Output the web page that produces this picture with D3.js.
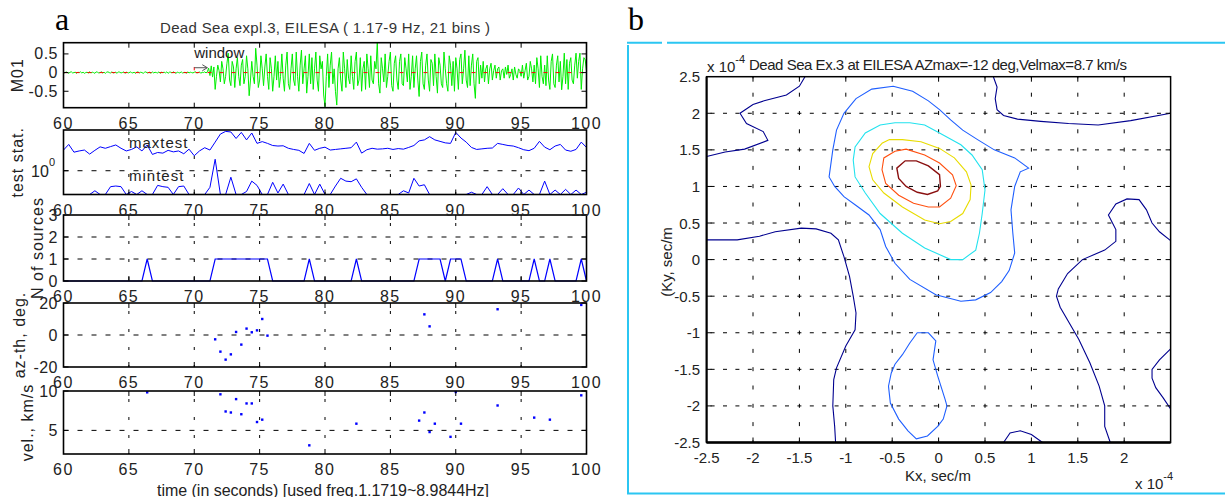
<!DOCTYPE html>
<html>
<head>
<meta charset="utf-8">
<script src="https://cdn.jsdelivr.net/npm/d3@7"></script>
<style>
  body { margin: 0; background: #fff; }
  svg text { font-family: "Liberation Sans Narrow", "Arial Narrow", "Liberation Sans", sans-serif; fill: #222; }
</style>
</head>
<body>
<script>
// ---- panel a data ----
const timeTicks = [60, 65, 70, 75, 80, 85, 90, 95, 100];
const waveT0 = 60, waveDt = 0.1;
// M01 trace, one value per 0.1 s, 60.0 .. 100.0
const waveM01 = [
  0.01,-0.01,0.02,0,-0.02,0.01,0.02,-0.01,0,0.01,
  -0.02,0.01,0,0.02,-0.01,0.01,-0.02,0,0.01,-0.01,
  0.02,-0.01,0.01,0,-0.02,0.02,0.01,-0.01,0,0.02,
  -0.01,0.01,-0.02,0.01,0.02,0,-0.01,0.02,-0.01,0,
  0.01,-0.02,0.02,0.01,-0.01,0,0.02,-0.02,0.01,0,
  -0.01,0.02,0,-0.01,0.01,-0.02,0.01,0.02,-0.01,0.01,
  0,-0.02,0.01,0.02,-0.01,0,0.01,-0.02,0.02,-0.01,
  0.01,0,-0.01,0.02,-0.02,0.01,0,0.01,-0.01,0.02,
  -0.02,0.01,0.01,-0.01,0.02,0,-0.02,0.01,0,-0.01,
  0.02,-0.01,0,0.01,-0.02,0.02,-0.01,0.01,0,-0.01,
  0.01,0.02,-0.01,0,0.02,-0.02,0.01,0,0.02,-0.01,
  0.02,0.12,-0.08,0.18,-0.12,0.15,-0.45,-0.1,0.2,0.05,
  -0.25,0.3,0.1,-0.3,-0.1,0.25,0.52,-0.2,-0.35,0.3,
  0.15,-0.4,0.1,0.4,-0.1,-0.35,0.2,0.35,-0.3,-0.1,
  0.45,0.1,-0.62,-0.2,0.3,-0.1,-0.3,0.65,0.2,-0.4,
  -0.2,0.45,0.1,-0.35,0.15,0.5,-0.1,-0.45,0.4,0.1,
  -0.5,-0.1,0.45,-0.2,0.3,-0.4,-0.1,0.5,-0.15,-0.5,
  0.2,0.55,-0.3,-0.45,0.1,0.5,-0.2,-0.35,0.55,-0.1,
  -0.5,0.2,0.6,-0.3,0.1,0.45,-0.55,-0.1,0.5,-0.3,
  0.4,-0.45,0.1,0.55,-0.2,-0.5,0.45,0.1,0.3,-0.6,
  -0.91,-0.1,0.5,-0.4,0.2,0.55,-0.3,0.1,-0.5,-0.87,
  0.1,0.4,-0.2,-0.5,0.55,0.1,-0.4,0.35,-0.15,-0.3,
  0.45,-0.1,-0.45,0.3,0.55,-0.35,-0.2,0.4,-0.5,0.1,
  0.3,-0.45,0.5,0.1,-0.4,0.45,-0.2,-0.3,0.3,0.1,
  0.83,-0.3,-0.55,0.4,0.1,-0.25,0.5,-0.4,-0.1,0.3,
  0.55,-0.35,-0.5,0.25,0.45,-0.2,-0.45,0.3,0.5,-0.3,
  -0.35,0.4,0.1,-0.25,0.5,-0.45,-0.1,0.45,-0.4,0.1,
  0.45,-0.2,-0.64,0.3,0.55,-0.3,-0.45,0.2,0.5,-0.2,
  -0.5,0.35,0.25,-0.35,0.5,-0.1,-0.55,0.4,0.2,-0.3,
  -0.4,0.55,0.1,-0.3,-0.5,0.45,0.2,-0.35,0.3,-0.5,
  0.4,0.1,-0.45,0.35,0.5,-0.3,0.1,0.6,-0.2,-0.4,
  0.45,-0.35,0.2,0.5,-0.3,-0.69,0.3,0.4,-0.3,0.2,
  -0.15,0.3,-0.25,0.1,0.2,-0.3,0.1,0.25,-0.2,0.05,
  0.2,-0.15,0.1,0.15,-0.2,0.05,0.1,-0.15,0.15,-0.05,
  0.2,-0.15,-0.05,0.1,-0.2,0.15,-0.05,-0.15,0.1,0.05,
  -0.1,0.2,-0.15,0.05,0.25,-0.2,-0.1,0.3,0.1,-0.25,
  0.2,-0.3,0.4,0.1,-0.4,0.45,-0.1,-0.3,0.2,-0.35,
  0.45,-0.2,-0.45,0.3,0.5,-0.3,-0.4,0.2,0.45,-0.25,
  0.3,-0.46,-0.1,0.52,-0.3,0.35,-0.45,0.25,0.4,-0.2,
  -0.3,0.2,0.52,-0.15,0.3,0.52,-0.45,0.1,0.4,0.34,
  0.05
];
const statT0 = 60, statDt = 0.4;
const maxtest = [
  1.56,1.76,1.49,1.53,1.56,1.43,1.55,1.67,1.62,1.68,
  1.74,1.62,1.53,1.58,1.67,1.53,1.74,1.42,1.48,1.46,
  1.55,1.50,1.53,1.44,1.59,1.38,1.53,1.64,1.56,1.85,
  2.20,2.33,2.30,2.00,2.28,1.94,2.25,1.80,1.87,1.80,
  1.72,1.70,1.71,1.62,1.58,1.55,1.45,1.80,1.55,1.62,
  1.66,1.56,1.58,1.60,1.62,1.64,1.85,1.46,1.57,1.62,
  1.59,1.60,1.62,1.58,1.61,1.59,1.65,1.72,1.90,1.94,
  2.08,1.94,1.88,1.82,1.80,2.28,2.02,1.85,1.65,1.58,
  1.60,1.62,1.63,1.80,1.76,1.72,1.70,1.64,1.57,1.54,
  1.62,1.88,1.66,1.57,1.70,1.76,1.56,1.52,1.58,1.85,
  1.65
];
const mintest = [
  0.6,0.6,0.6,0.6,0.6,0.6,0.65,0.6,0.6,0.71,
  0.72,0.71,0.6,0.64,0.6,0.65,0.6,0.6,0.73,0.71,
  0.7,0.6,0.71,0.72,0.6,0.6,0.6,0.6,0.7,1.28,
  0.6,0.6,0.87,0.6,0.6,0.64,0.8,0.73,0.6,0.6,
  0.78,0.62,0.75,0.6,0.6,0.6,0.6,0.76,0.6,0.75,
  0.6,0.6,0.72,0.85,0.8,0.79,0.84,0.7,0.6,0.6,
  0.6,0.6,0.6,0.6,0.6,0.65,0.62,0.85,0.72,0.74,
  0.6,0.6,0.6,0.6,0.6,0.6,0.6,0.6,0.63,0.6,
  0.6,0.71,0.6,0.6,0.68,0.6,0.6,0.69,0.6,0.66,
  0.6,0.6,0.8,0.6,0.66,0.6,0.67,0.6,0.66,0.6,
  0.63
];
const nSources = [
  0,0,0,0,0,0,0,0,0,0,
  0,0,0,0,0,0,1,0,0,0,
  0,0,0,0,0,0,0,0,0,1,
  1,1,1,1,1,1,1,1,1,1,
  0,0,0,0,0,0,0,1,0,0,
  0,0,0,0,0,0,1,0,0,0,
  0,0,0,0,0,0,0,0,1,1,
  1,1,1,0,1,1,1,0,0,0,
  0,0,0,1,0,0,0,0,0,0,
  1,0,0,1,0,0,0,0,0,1,
  0
];
const azT = [71.6,72.0,72.4,72.8,73.2,73.6,74.0,74.4,74.8,75.2,75.6,87.6,88.0,93.2,99.6];
const azV = [-2.7,-10.4,-15.4,-12.1,1.9,-6.0,4.0,1.7,2.9,10.0,-0.4,12.9,5.4,16.1,18.8];
const velT = [66.4,72.0,72.4,72.8,73.2,73.6,74.0,74.4,74.8,75.2,78.8,82.4,87.2,87.6,88.0,88.4,89.6,90.0,90.4,93.2,96.0,97.2,99.6];
const velV = [9.83,9.58,7.4,7.27,8.97,7.05,8.42,8.42,6.06,6.36,3.1,5.85,6.24,7.27,4.79,5.85,4.18,9.87,5.85,8.16,6.62,6.36,9.45];

// ---- panel b data (Kx, Ky in units of 1e-4 s/m) ----
const kTicks = [-2.5,-2,-1.5,-1,-0.5,0,0.5,1,1.5,2,2.5];
const kxLabels = ["-2.5","-2","-1.5","-1","-0.5","0","0.5","1","1.5","2"];
const level1Lines = [
  [[-1.44,2.5],[-1.5,2.37],[-1.64,2.25],[-1.88,2.17],[-2.0,2.12],[-2.14,2.0],[-2.07,1.86],[-1.89,1.75],[-1.84,1.63],[-2.09,1.51],[-2.3,1.47],[-2.5,1.41]],
  [[0.59,2.5],[0.63,2.36],[0.61,2.2],[0.63,2.05],[0.7,1.97],[0.85,1.92],[1.1,1.89],[1.4,1.86],[1.72,1.84],[2.07,1.9],[2.5,2.0]],
  [[-2.5,0.27],[-2.17,0.27],[-1.93,0.32],[-1.76,0.38],[-1.48,0.43],[-1.32,0.42],[-1.16,0.36],[-1.08,0.27],[-1.02,0.04],[-0.96,-0.23],[-0.92,-0.5],[-0.89,-0.73],[-0.9,-0.96],[-1.0,-1.18],[-1.1,-1.48],[-1.13,-1.64],[-1.14,-2.0],[-1.12,-2.28],[-1.11,-2.5]],
  [[2.5,0.26],[2.38,0.38],[2.3,0.5],[2.24,0.68],[2.16,0.82],[2.03,0.83],[1.91,0.76],[1.83,0.61],[1.91,0.41],[1.91,0.25],[1.79,0.13],[1.55,0.0],[1.39,-0.19],[1.29,-0.4],[1.27,-0.5],[1.31,-0.65],[1.51,-1.09],[1.63,-1.41],[1.73,-1.73],[1.79,-2.0],[1.79,-2.28],[1.85,-2.5]],
  [[2.5,-1.22],[2.38,-1.37],[2.3,-1.5],[2.3,-1.62],[2.34,-1.75],[2.42,-1.89],[2.5,-2.04]],
  [[0.7,-2.5],[0.77,-2.37],[0.88,-2.34],[1.0,-2.39],[1.12,-2.5]]
];
const level2Loops = [
  [[-0.49,2.37],[-0.28,2.3],[-0.11,2.17],[0.01,2.05],[0.13,1.91],[0.26,1.77],[0.42,1.64],[0.6,1.5],[0.82,1.39],[0.97,1.25],[0.88,1.2],[0.82,1.0],[0.78,0.68],[0.8,0.36],[0.82,0.09],[0.76,-0.15],[0.68,-0.3],[0.56,-0.45],[0.4,-0.55],[0.24,-0.57],[-0.03,-0.48],[-0.31,-0.27],[-0.47,-0.05],[-0.57,0.18],[-0.63,0.41],[-0.75,0.61],[-0.9,0.75],[-1.02,0.86],[-1.12,1.0],[-1.18,1.13],[-1.14,1.5],[-1.1,1.77],[-1.02,2.0],[-0.89,2.2],[-0.72,2.33]],
  [[-0.23,-1.0],[-0.11,-1.0],[-0.03,-1.11],[-0.06,-1.37],[-0.01,-1.59],[0.07,-1.91],[0.09,-2.0],[0.05,-2.18],[-0.01,-2.28],[-0.12,-2.41],[-0.24,-2.45],[-0.33,-2.34],[-0.43,-2.18],[-0.52,-1.96],[-0.54,-1.73],[-0.51,-1.55],[-0.47,-1.43],[-0.39,-1.3],[-0.31,-1.14]]
];
const level3Loop = [[-0.47,1.87],[-0.63,1.84],[-0.79,1.73],[-0.9,1.54],[-0.92,1.36],[-0.9,1.13],[-0.79,0.91],[-0.63,0.63],[-0.39,0.36],[-0.15,0.16],[0.13,0.0],[0.26,0.0],[0.4,0.13],[0.44,0.36],[0.47,0.63],[0.5,0.95],[0.47,1.23],[0.36,1.43],[0.24,1.57],[0.01,1.73],[-0.15,1.84],[-0.31,1.87]];
const level4Loop = [[-0.61,1.59],[-0.71,1.45],[-0.75,1.27],[-0.71,1.09],[-0.59,0.91],[-0.39,0.72],[-0.15,0.54],[0.01,0.49],[0.13,0.52],[0.26,0.63],[0.34,0.82],[0.35,1.02],[0.3,1.2],[0.17,1.39],[0.01,1.52],[-0.19,1.61],[-0.39,1.64],[-0.53,1.64]];
const level5Loop = [[-0.59,1.39],[-0.61,1.23],[-0.57,1.04],[-0.43,0.88],[-0.27,0.77],[-0.11,0.72],[0.01,0.72],[0.13,0.84],[0.19,1.01],[0.15,1.16],[0.01,1.32],[-0.15,1.43],[-0.35,1.51],[-0.47,1.48]];
const level6Loop = [[-0.45,1.25],[-0.36,1.35],[-0.24,1.35],[-0.11,1.28],[0.01,1.16],[0.02,1.0],[-0.01,0.94],[-0.12,0.89],[-0.23,0.92],[-0.35,1.0],[-0.43,1.11]];
const levelColors = ["#00008f", "#1f5fff", "#22e2ee", "#e8dc00", "#ff5010", "#8a1010"];

// ---- drawing ----
const W = 1225, H = 497;
const svg = d3.select("body").append("svg").attr("width", W).attr("height", H);

const xT = d3.scaleLinear().domain([60, 100]).range([63.5, 586.5]);

const panels = [
  { top: 42.7, bottom: 107.7, y: d3.scaleLinear().domain([-0.94, 0.8]), yTicks: [-0.5, 0, 0.5], grid: false, label: "M01", lx: 17 },
  { top: 130, bottom: 194.5, y: d3.scaleLog().domain([0.6, 2.4]), yTicks: [1], grid: true, label: "test stat.", lx: 17, log: true },
  { top: 215, bottom: 281, y: d3.scaleLinear().domain([0, 3]), yTicks: [0, 1, 2, 3], grid: true, label: "N of sources", lx: 37 },
  { top: 303, bottom: 367, y: d3.scaleLinear().domain([-20, 20]), yTicks: [-20, 0, 20], grid: true, label: "az-th, deg.", lx: 19 },
  { top: 391, bottom: 454, y: d3.scaleLinear().domain([2, 10]), yTicks: [5, 10], grid: true, label: "vel., km/s", lx: 27 }
];
panels.forEach(p => p.y.range([p.bottom, p.top]));

const x0 = xT.range()[0], x1 = xT.range()[1];

panels.forEach((p, i) => {
  const g = svg.append("g");
  const clipId = "clipA" + i;
  svg.append("clipPath").attr("id", clipId).append("rect")
    .attr("x", x0).attr("y", p.top).attr("width", x1 - x0).attr("height", p.bottom - p.top);

  if (p.grid) {
    p.yTicks.filter(v => p.y(v) > p.top + 1 && p.y(v) < p.bottom - 1).forEach(v => {
      g.append("line").attr("x1", x0).attr("x2", x1).attr("y1", p.y(v)).attr("y2", p.y(v))
        .attr("stroke", "#000").attr("stroke-width", 1).attr("stroke-dasharray", "5,9");
    });
    timeTicks.slice(1, -1).forEach(t => {
      g.append("line").attr("x1", xT(t)).attr("x2", xT(t)).attr("y1", p.top).attr("y2", p.bottom)
        .attr("stroke", "#000").attr("stroke-width", 1).attr("stroke-dasharray", "3,15").attr("stroke-dashoffset", -8);
    });
  }
  p.g = g; p.clip = clipId;
});

// panel 1: waveform
{
  const p = panels[0];
  const line = d3.line().x((d, i) => xT(waveT0 + i * waveDt)).y(d => p.y(d));
  p.g.append("path").attr("d", line(waveM01)).attr("clip-path", `url(#${p.clip})`)
    .attr("fill", "none").attr("stroke", "#00ee00").attr("stroke-width", 1);
  p.g.append("line").attr("x1", x0).attr("x2", x1).attr("y1", p.y(0)).attr("y2", p.y(0))
    .attr("stroke", "#ff0000").attr("stroke-width", 1).attr("stroke-dasharray", "4,8");
  // window marker
  p.g.append("line").attr("x1", xT(70)).attr("x2", xT(70)).attr("y1", p.y(0.15)).attr("y2", p.y(0.06))
    .attr("stroke", "#ff0000").attr("stroke-width", 1);
  p.g.append("line").attr("x1", xT(70)).attr("x2", xT(71)).attr("y1", p.y(0.13)).attr("y2", p.y(0.13))
    .attr("stroke", "#555").attr("stroke-width", 1);
  p.g.append("path").attr("d", `M${xT(71) - 5},${p.y(0.13) - 3}L${xT(71)},${p.y(0.13)}L${xT(71) - 5},${p.y(0.13) + 3}`)
    .attr("fill", "none").attr("stroke", "#555").attr("stroke-width", 1);
  svg.append("text").attr("x", xT(70)).attr("y", 52).attr("dominant-baseline", "central")
    .style("font-size", "15px").text("window");
}
// panel 2: test statistics
{
  const p = panels[1];
  const line = d3.line().x((d, i) => xT(statT0 + i * statDt)).y(d => p.y(d));
  [maxtest, mintest].forEach(arr => {
    p.g.append("path").attr("d", line(arr)).attr("clip-path", `url(#${p.clip})`)
      .attr("fill", "none").attr("stroke", "#0000ff").attr("stroke-width", 1);
  });
  svg.append("text").attr("x", 129).attr("y", 142).attr("dominant-baseline", "central")
    .attr("letter-spacing", "1").style("font-size", "15px").text("maxtest");
  svg.append("text").attr("x", 129).attr("y", 175).attr("dominant-baseline", "central")
    .attr("letter-spacing", "1").style("font-size", "15px").text("mintest");
}
// panel 3: number of sources
{
  const p = panels[2];
  const line = d3.line().x((d, i) => xT(statT0 + i * statDt)).y(d => p.y(d));
  p.g.append("path").attr("d", line(nSources)).attr("fill", "none")
    .attr("stroke", "#0000ff").attr("stroke-width", 1.2);
}
// panel 4, 5: dots
[[panels[3], azT, azV], [panels[4], velT, velV]].forEach(([p, ts, vs]) => {
  p.g.selectAll(null).data(ts).join("rect")
    .attr("x", (d, i) => xT(d) - 1.2).attr("y", (d, i) => p.y(vs[i]) - 1.2)
    .attr("width", 2.4).attr("height", 2.4).attr("fill", "#0000ff");
});

// boxes, ticks and labels
panels.forEach((p, i) => {
  const g = p.g;
  g.append("rect").attr("x", x0).attr("y", p.top).attr("width", x1 - x0).attr("height", p.bottom - p.top)
    .attr("fill", "none").attr("stroke", "#000").attr("stroke-width", 1.6);
  timeTicks.slice(1, -1).forEach(t => {
    g.append("line").attr("x1", xT(t)).attr("x2", xT(t)).attr("y1", p.top).attr("y2", p.top + 5).attr("stroke", "#000");
    g.append("line").attr("x1", xT(t)).attr("x2", xT(t)).attr("y1", p.bottom).attr("y2", p.bottom - 5).attr("stroke", "#000");
  });
  p.yTicks.forEach(v => {
    g.append("line").attr("x1", x0).attr("x2", x0 + 5).attr("y1", p.y(v)).attr("y2", p.y(v)).attr("stroke", "#000");
    g.append("line").attr("x1", x1).attr("x2", x1 - 5).attr("y1", p.y(v)).attr("y2", p.y(v)).attr("stroke", "#000");
  });
  timeTicks.forEach(t => {
    svg.append("text").attr("x", xT(t)).attr("y", p.bottom + 15.5).attr("text-anchor", "middle")
      .attr("dominant-baseline", "central").attr("letter-spacing", "1.5").style("font-size", "16px").text(t);
  });
  p.yTicks.forEach(v => {
    if (p.log) {
      const t = svg.append("text").attr("x", 55).attr("y", p.y(v)).attr("text-anchor", "end")
        .attr("dominant-baseline", "central").style("font-size", "16px");
      t.append("tspan").text("10");
      t.append("tspan").attr("dy", -9).style("font-size", "11px").text("0");
    } else {
      svg.append("text").attr("x", 58).attr("y", p.y(v)).attr("text-anchor", "end")
        .attr("dominant-baseline", "central").attr("letter-spacing", "0.5").style("font-size", "16px").text(v);
    }
  });
  svg.append("text").attr("transform", `translate(${p.lx},${(p.top + p.bottom) / 2}) rotate(-90)`)
    .attr("text-anchor", "middle").attr("dominant-baseline", "central").attr("letter-spacing", "1")
    .style("font-size", "16px").text(p.label);
});

svg.append("text").attr("x", 325).attr("y", 27).attr("text-anchor", "middle").attr("dominant-baseline", "central")
  .attr("textLength", 330).attr("lengthAdjust", "spacing").style("font-size", "15px").style("fill", "#333")
  .text("Dead Sea expl.3, EILESA ( 1.17-9 Hz, 21 bins )");
svg.append("text").attr("x", 323).attr("y", 490).attr("text-anchor", "middle").attr("dominant-baseline", "central")
  .attr("textLength", 332).attr("lengthAdjust", "spacing").style("font-size", "16px")
  .text("time (in seconds) [used freq.1.1719~8.9844Hz]");
svg.append("text").attr("x", 62).attr("y", 19).attr("text-anchor", "middle").attr("dominant-baseline", "central")
  .style("font-family", "'Liberation Serif', serif").style("font-size", "32px").style("fill", "#000").text("a");

// ---- panel b ----
const kx = d3.scaleLinear().domain([-2.5, 2.5]).range([706.6, 1170.6]);
const ky = d3.scaleLinear().domain([-2.5, 2.5]).range([442.5, 76.7]);
const bx0 = kx.range()[0], bx1 = kx.range()[1], by0 = ky.range()[1], by1 = ky.range()[0];
const gb = svg.append("g");
svg.append("clipPath").attr("id", "clipB").append("rect")
  .attr("x", bx0).attr("y", by0).attr("width", bx1 - bx0).attr("height", by1 - by0);

kTicks.slice(1, -1).forEach(v => {
  gb.append("line").attr("x1", bx0).attr("x2", bx1).attr("y1", ky(v)).attr("y2", ky(v))
    .attr("stroke", "#000").attr("stroke-dasharray", "4,8.4").attr("stroke-dashoffset", -4);
  gb.append("line").attr("x1", kx(v)).attr("x2", kx(v)).attr("y1", by0).attr("y2", by1)
    .attr("stroke", "#000").attr("stroke-dasharray", "4,14.3").attr("stroke-dashoffset", -16);
});

const kLine = d3.line().x(d => kx(d[0])).y(d => ky(d[1]));
const kLoop = d3.line().x(d => kx(d[0])).y(d => ky(d[1])).curve(d3.curveLinearClosed);
const cg = gb.append("g").attr("clip-path", "url(#clipB)").attr("fill", "none").attr("stroke-width", 1.1);
level1Lines.forEach(c => cg.append("path").attr("d", kLine(c)).attr("stroke", levelColors[0]));
level2Loops.forEach(c => cg.append("path").attr("d", kLoop(c)).attr("stroke", levelColors[1]));
cg.append("path").attr("d", kLoop(level3Loop)).attr("stroke", levelColors[2]);
cg.append("path").attr("d", kLoop(level4Loop)).attr("stroke", levelColors[3]);
cg.append("path").attr("d", kLoop(level5Loop)).attr("stroke", levelColors[4]);
cg.append("path").attr("d", kLoop(level6Loop)).attr("stroke", levelColors[5]).attr("stroke-width", 1.4);

gb.append("rect").attr("x", bx0).attr("y", by0).attr("width", bx1 - bx0).attr("height", by1 - by0)
  .attr("fill", "none").attr("stroke", "#000").attr("stroke-width", 1.5);
gb.append("line").attr("x1", bx0).attr("x2", bx1).attr("y1", by1).attr("y2", by1).attr("stroke", "#000").attr("stroke-width", 2.5);
gb.append("line").attr("x1", bx0).attr("x2", bx0).attr("y1", by0).attr("y2", by1).attr("stroke", "#000").attr("stroke-width", 2);
kTicks.slice(1, -1).forEach(v => {
  gb.append("line").attr("x1", kx(v)).attr("x2", kx(v)).attr("y1", by0).attr("y2", by0 + 5).attr("stroke", "#000");
  gb.append("line").attr("x1", kx(v)).attr("x2", kx(v)).attr("y1", by1).attr("y2", by1 - 5).attr("stroke", "#000");
  gb.append("line").attr("x1", bx0).attr("x2", bx0 + 5).attr("y1", ky(v)).attr("y2", ky(v)).attr("stroke", "#000");
  gb.append("line").attr("x1", bx1).attr("x2", bx1 - 5).attr("y1", ky(v)).attr("y2", ky(v)).attr("stroke", "#000");
});
kTicks.forEach(v => {
  svg.append("text").attr("x", 700).attr("y", ky(v)).attr("text-anchor", "end").attr("dominant-baseline", "central")
    .style("font-size", "15px").text(v);
});
kxLabels.forEach((s, i) => {
  svg.append("text").attr("x", kx(kTicks[i])).attr("y", 457).attr("text-anchor", "middle").attr("dominant-baseline", "central")
    .style("font-size", "15px").text(s);
});
svg.append("text").attr("x", 938).attr("y", 475).attr("text-anchor", "middle").attr("dominant-baseline", "central")
  .style("font-size", "15px").text("Kx, sec/m");
svg.append("text").attr("transform", "translate(666,262) rotate(-90)").attr("text-anchor", "middle")
  .attr("dominant-baseline", "central").style("font-size", "15px").text("(Ky, sec/m");
function expLabel(x, y) {
  const t = svg.append("text").attr("x", x).attr("y", y).attr("dominant-baseline", "central").style("font-size", "15px");
  t.append("tspan").text("x 10");
  t.append("tspan").attr("dy", -7).style("font-size", "11px").text("-4");
}
expLabel(707, 66);
expLabel(1135, 483);
svg.append("text").attr("x", 749).attr("y", 64).attr("dominant-baseline", "central")
  .attr("textLength", 378).attr("lengthAdjust", "spacing").style("font-size", "15px")
  .text("Dead Sea Ex.3 at EILESA AZmax=-12 deg,Velmax=8.7 km/s");
svg.append("text").attr("x", 636).attr("y", 19).attr("text-anchor", "middle").attr("dominant-baseline", "central")
  .style("font-family", "'Liberation Serif', serif").style("font-size", "32px").style("fill", "#000").text("b");

// cyan frame around panel b
const frame = "#2bc6f2";
svg.append("line").attr("x1", 627).attr("x2", 662).attr("y1", 42.7).attr("y2", 42.7).attr("stroke", frame).attr("stroke-width", 2);
svg.append("line").attr("x1", 667).attr("x2", W).attr("y1", 42.7).attr("y2", 42.7).attr("stroke", frame).attr("stroke-width", 2);
svg.append("line").attr("x1", 628).attr("x2", 628).attr("y1", 45).attr("y2", 494).attr("stroke", frame).attr("stroke-width", 2);
svg.append("line").attr("x1", 627).attr("x2", W).attr("y1", 493.5).attr("y2", 493.5).attr("stroke", frame).attr("stroke-width", 2);
</script>
</body>
</html>
